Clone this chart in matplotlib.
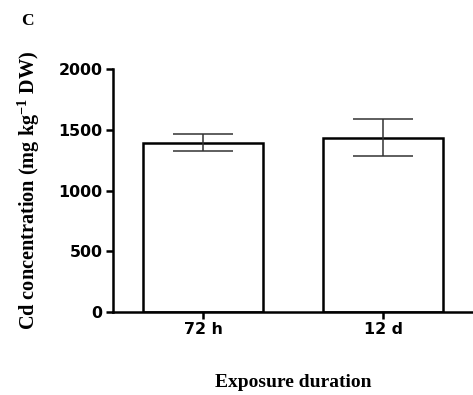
import numpy as np
import matplotlib
matplotlib.use("Agg")
import matplotlib.pyplot as plt

plt.rcParams["mathtext.fontset"] = "custom"
plt.rcParams["mathtext.rm"] = "Liberation Serif"
plt.rcParams["mathtext.bf"] = "Liberation Serif:bold"

# data
groups = ["72 h", "12 d"]
means = [1395, 1435]
errs = [68, 152]
yticks = [0, 500, 1000, 1500, 2000]

fig = plt.figure(figsize=(4.73, 3.95), dpi=100)
ax = fig.add_axes([0.239, 0.210, 0.761, 0.615])

x = np.arange(len(groups))
ax.bar(x, means, width=0.667, color="white", edgecolor="black", linewidth=1.8, zorder=2)
ax.errorbar(x, means, yerr=errs, fmt="none", ecolor="#333333", elinewidth=1.1,
            capsize=21.6, capthick=1.1, zorder=3)

ax.set_xlim(-0.5, 1.5)
ax.set_ylim(0, 2000)
ax.set_yticks(yticks)
ax.set_xticks(x)
ax.set_xticklabels(groups)

for s in ["top", "right"]:
    ax.spines[s].set_visible(False)
for s in ["left", "bottom"]:
    ax.spines[s].set_linewidth(1.8)
ax.tick_params(axis="both", direction="out", length=5, width=1.8, pad=2.5)
for lab in ax.get_xticklabels() + ax.get_yticklabels():
    lab.set_fontfamily("DejaVu Sans")
    lab.set_fontweight("bold")
    lab.set_fontsize(11.4)

ax.set_ylabel("Cd concentration (mg kg$^{\\mathbf{-1}}$ DW)", family="Liberation Serif",
              fontweight="bold", fontsize=14.6, labelpad=12)
ax.set_xlabel("Exposure duration", family="Liberation Serif", fontweight="bold",
              fontsize=14, labelpad=26)
fig.text(0.057, 0.948, "C", family="Liberation Serif", fontweight="bold", fontsize=12.5,
         va="center", ha="center")

fig.savefig("out.png", dpi=100)
